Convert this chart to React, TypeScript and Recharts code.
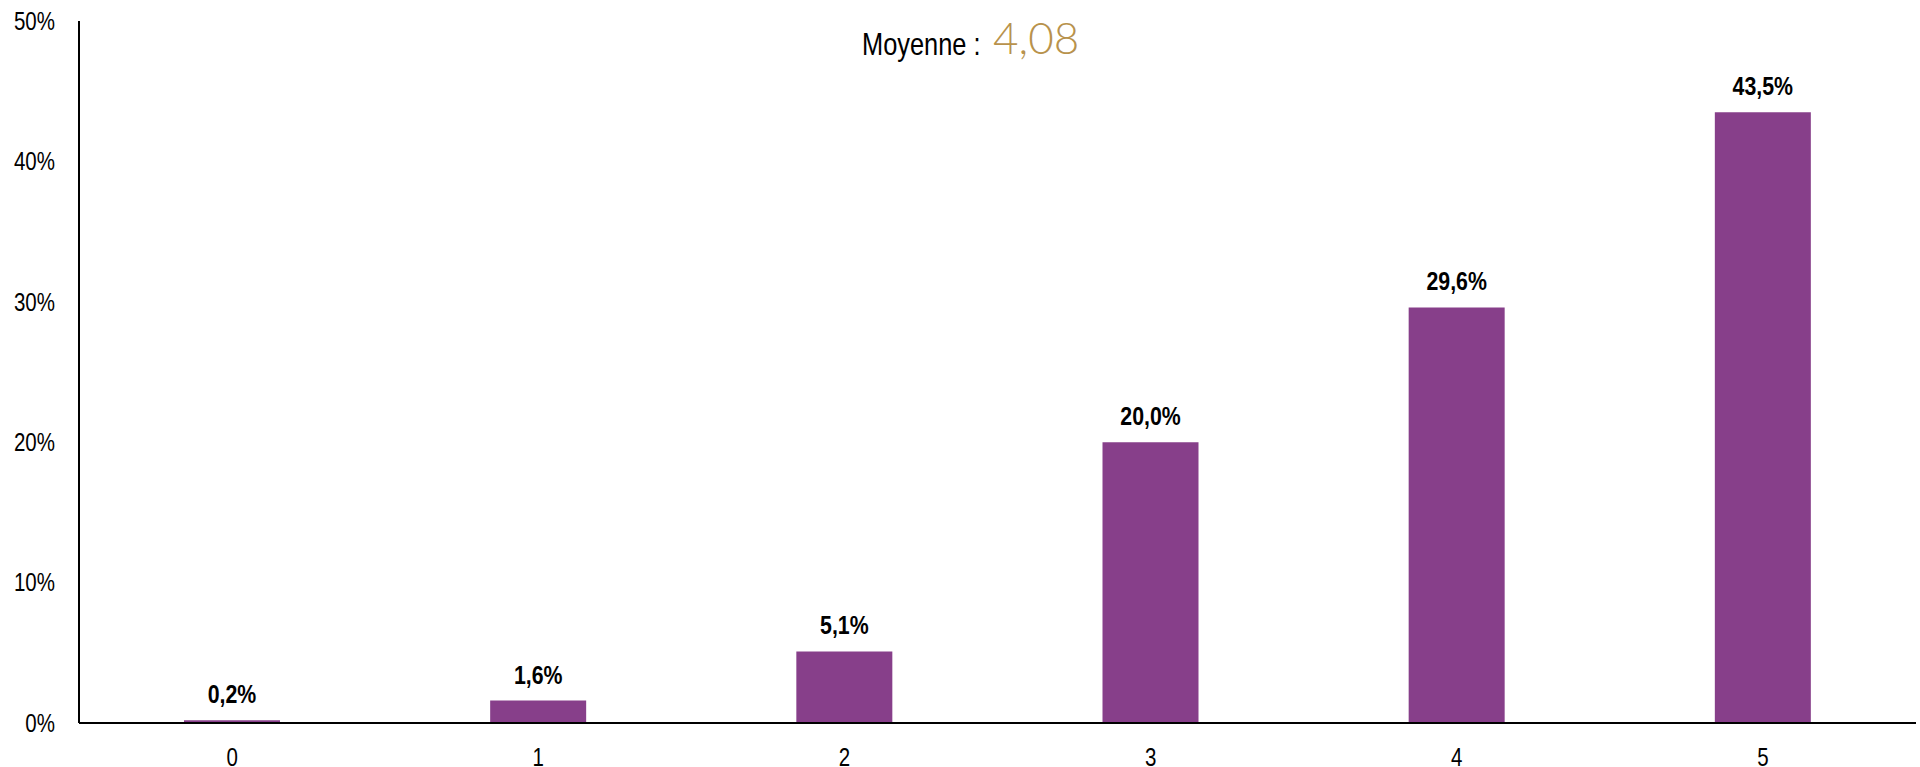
import React from "react";
import { BarChart, Bar, XAxis, YAxis, LabelList } from "recharts";

const categories = ["0", "1", "2", "3", "4", "5"];
const shares = [0.2, 1.6, 5.1, 20.0, 29.6, 43.5];
const yTicks = [0, 10, 20, 30, 40, 50];
const averageLabel = "Moyenne :";
const averageValue = "4,08";

// Arial Narrow is not available, so squeeze Liberation Sans horizontally
const FONT = "'Liberation Sans', Arial, sans-serif";
const NARROW = 0.82;
const BAR_COLOR = "#873F8A";
const GOLD = "#B8924C";

const data = categories.map((name, i) => ({ name, value: shares[i] }));

const fmtPct = (v: number) => `${v.toFixed(1).replace(".", ",")}%`;

const XTick = (props: any) => {
  const { x, y, payload } = props;
  return (
    <g transform={`translate(${x},${y})`}>
      <text transform={`scale(${NARROW},1)`} textAnchor="middle" dy="0.71em" fill="#000" fontSize={25} fontFamily={FONT}>
        {payload.value}
      </text>
    </g>
  );
};

const YTick = (props: any) => {
  const { x, y, payload } = props;
  return (
    <g transform={`translate(${x},${y})`}>
      <text transform={`scale(${NARROW},1)`} textAnchor="end" dy="0.355em" fill="#000" fontSize={25} fontFamily={FONT}>
        {`${payload.value}%`}
      </text>
    </g>
  );
};

const BarValue = (props: any) => {
  const { x, y, width, value } = props;
  return (
    <g transform={`translate(${x + width / 2},${y - 17})`}>
      <text transform={`scale(${NARROW},1)`} textAnchor="middle" fill="#000" fontSize={26} fontWeight={700} fontFamily={FONT}>
        {fmtPct(value)}
      </text>
    </g>
  );
};

export default function App() {
  return (
    <div style={{ position: "absolute", left: 0, top: 0, width: 1920, height: 767, background: "#fff" }}>
      <BarChart
        width={1920}
        height={767}
        data={data}
        margin={{ top: 21, right: 4, bottom: 14, left: 0 }}
        barCategoryGap={105}
      >
        <XAxis
          dataKey="name"
          height={30}
          axisLine={{ stroke: "#000", strokeWidth: 2 }}
          tickLine={false}
          tickSize={0}
          tickMargin={25}
          tick={<XTick />}
        />
        <YAxis
          width={79}
          domain={[0, 50]}
          ticks={yTicks}
          interval={0}
          axisLine={{ stroke: "#000", strokeWidth: 2 }}
          tickLine={false}
          tickSize={0}
          tickMargin={24}
          tick={<YTick />}
        />
        <Bar dataKey="value" fill={BAR_COLOR} isAnimationActive={false}>
          <LabelList dataKey="value" position="top" content={<BarValue />} />
        </Bar>
      </BarChart>
      <svg width={1920} height={80} style={{ position: "absolute", left: 0, top: 0 }}>
        <text transform={`translate(862,55) scale(${NARROW},1)`} fill="#000" fontSize={31} fontFamily={FONT}>
          {averageLabel}
        </text>
        <text x={993} y={54} fill={GOLD} fontSize={44} fontWeight={300} fontFamily="Lato, 'Open Sans', sans-serif">
          {averageValue}
        </text>
      </svg>
    </div>
  );
}
